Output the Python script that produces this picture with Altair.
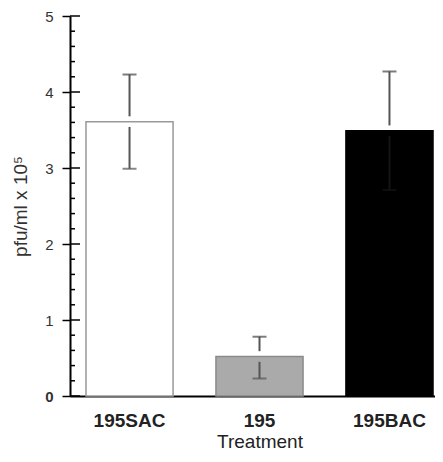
import altair as alt
import pandas as pd

treatments = ["195SAC", "195", "195BAC"]
means = [3.61, 0.52, 3.49]
uppers = [4.23, 0.78, 4.27]
lowers = [2.99, 0.23, 2.71]
fills = ["#ffffff", "#aaaaaa", "#000000"]
strokes = ["#999999", "#8a8a8a", "#000000"]
lower_err_colors = ["#555555", "#555555", "#141414"]
gap = 0.07
major_ticks = [0, 1, 2, 3, 4, 5]
minor_ticks = [round(i * 0.2, 1) for i in range(26) if i % 5 != 0]

df = pd.DataFrame({"t": treatments, "mean": means, "up": uppers, "lo": lowers,
                   "fill": fills, "stroke": strokes, "lc": lower_err_colors})
df["m_up"] = df["mean"] + gap
df["m_lo"] = df["mean"] - gap

FONT = "Liberation Sans"
xscale = alt.Scale(domain=treatments, range=[0, 379], paddingInner=0.33, paddingOuter=0.123)
yscale = alt.Scale(domain=[0, 5], nice=False)

x = alt.X("t:N", scale=xscale, sort=treatments,
          axis=alt.Axis(title="Treatment", labelAngle=0, ticks=False, domain=True,
                        domainColor="#000", domainWidth=2, labelFont=FONT,
                        labelFontWeight="bold", labelFontSize=19, labelColor="#222",
                        labelPadding=15, titleFont=FONT, titleFontWeight="normal",
                        titleFontSize=19, titleColor="#222", titlePadding=2))

bars = alt.Chart(df).mark_bar(strokeWidth=1.5).encode(
    x=x,
    y=alt.Y("mean:Q", scale=yscale,
            axis=alt.Axis(title="pfu/ml x 10⁵", values=major_ticks, format="d",
                          tickSize=8, tickWidth=1.5,
                          tickColor="#000", domainColor="#000", domainWidth=2, grid=False,
                          labelFont=FONT, labelFontSize=15, labelColor="#333", labelPadding=9,
                          labelFontWeight={"condition": {"test": "datum.value == 0", "value": "bold"}, "value": "normal"},
                          titleFont=FONT, titleFontWeight="normal", titleFontSize=19,
                          titleColor="#333", titlePadding=14)),
    fill=alt.Fill("fill:N", scale=None),
    stroke=alt.Stroke("stroke:N", scale=None),
)

err_up = alt.Chart(df).mark_rule(color="#555", strokeWidth=2).encode(
    x=alt.X("t:N", scale=xscale, sort=treatments), y=alt.Y("m_up:Q", scale=yscale), y2="up:Q")
err_lo = alt.Chart(df).mark_rule(strokeWidth=2).encode(
    x=alt.X("t:N", scale=xscale, sort=treatments), y=alt.Y("lo:Q", scale=yscale), y2="m_lo:Q",
    color=alt.Color("lc:N", scale=None))
cap_up = alt.Chart(df).mark_tick(color="#444", size=14, thickness=2).encode(
    x=alt.X("t:N", scale=xscale, sort=treatments), y=alt.Y("up:Q", scale=yscale))
cap_lo = alt.Chart(df).mark_tick(size=14, thickness=2).encode(
    x=alt.X("t:N", scale=xscale, sort=treatments), y=alt.Y("lo:Q", scale=yscale),
    color=alt.Color("lc:N", scale=None))

maj = alt.Chart(pd.DataFrame({"v": major_ticks})).mark_rule(color="#000", strokeWidth=1.5).encode(
    x=alt.value(0), x2=alt.value(10), y=alt.Y("v:Q", scale=yscale))
mino = alt.Chart(pd.DataFrame({"v": minor_ticks})).mark_rule(color="#000", strokeWidth=1.5).encode(
    x=alt.value(0), x2=alt.value(5), y=alt.Y("v:Q", scale=yscale))

chart = alt.layer(bars, err_up, err_lo, cap_up, cap_lo, maj, mino).properties(
    width=365, height=380,
    autosize=alt.AutoSizeParams(type="none"),
    padding={"left": 62, "top": 8, "right": 0, "bottom": 54},
).configure_view(stroke=None).configure_axis(labelFont=FONT, titleFont=FONT)

chart.save("out.html", embed_options={"renderer": "svg", "actions": False})
